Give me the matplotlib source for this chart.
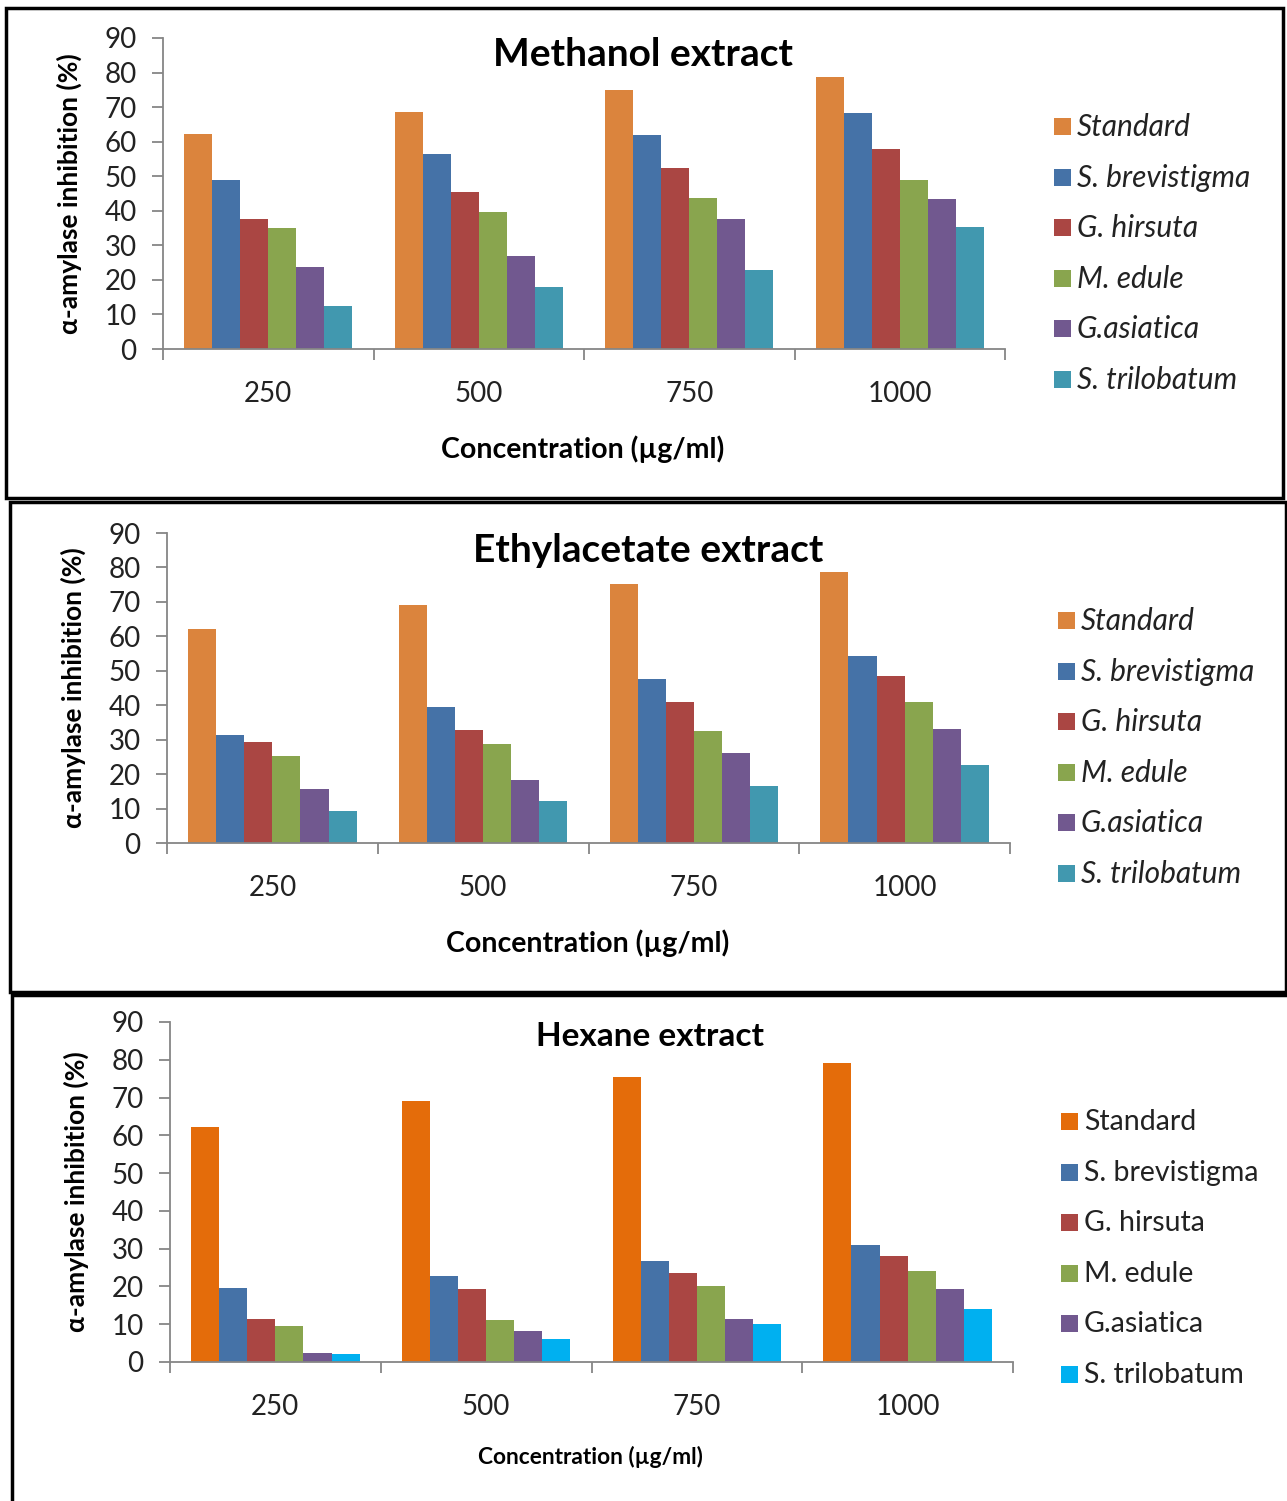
import numpy as np
import matplotlib.pyplot as plt
from matplotlib.patches import Rectangle

plt.rcParams['font.family'] = ['Lato', 'DejaVu Sans']

W, H = 1287, 1501

concentrations = ['250', '500', '750', '1000']
species = ['Standard', 'S. brevistigma', 'G. hirsuta', 'M. edule', 'G.asiatica', 'S. trilobatum']

methanol = [
    [62.1, 68.7, 75.0, 78.8],
    [48.9, 56.3, 61.8, 68.3],
    [37.7, 45.5, 52.5, 57.9],
    [34.9, 39.7, 43.8, 48.9],
    [23.7, 26.8, 37.7, 43.4],
    [12.5, 17.9, 23.0, 35.4],
]
ethylacetate = [
    [62.1, 69.1, 75.3, 78.8],
    [31.3, 39.5, 47.6, 54.2],
    [29.2, 32.8, 40.9, 48.4],
    [25.4, 28.6, 32.4, 40.9],
    [15.6, 18.4, 26.1, 33.2],
    [9.4, 12.2, 16.5, 22.7],
]
hexane = [
    [62.3, 69.1, 75.5, 79.1],
    [19.6, 22.8, 26.7, 31.0],
    [11.4, 19.2, 23.5, 28.1],
    [9.6, 11.1, 20.0, 24.2],
    [2.5, 8.2, 11.4, 19.2],
    [2.2, 6.1, 10.0, 13.9],
]

colors_a = ['#DB843D', '#4572A7', '#AA4643', '#89A54E', '#71588F', '#4198AF']
colors_b = ['#E46C0A', '#4572A7', '#AA4643', '#89A54E', '#71588F', '#00B0F0']

fig = plt.figure(figsize=(W / 100, H / 100), dpi=100)


def px_box(x0, y0, x1, y1):
    return [x0 / W, 1 - y1 / H, (x1 - x0) / W, (y1 - y0) / H]


def panel(frame, axbox, data, colors, title, tsize, title_xy, xl_xy, xl_size,
          leg_x, leg_y0, leg_size, italic):
    fig.patches.append(Rectangle((frame[0] / W, 1 - frame[3] / H),
                                 (frame[2] - frame[0]) / W, (frame[3] - frame[1]) / H,
                                 transform=fig.transFigure, fill=False,
                                 edgecolor='black', linewidth=2.5, zorder=0))
    ax = fig.add_axes(px_box(*axbox))
    n = len(data)
    bw = 0.8 / n
    x = np.arange(len(concentrations)) + 0.5
    for i, vals in enumerate(data):
        ax.bar(x - 0.4 + bw * (i + 0.5), vals, bw, color=colors[i],
               label=species[i], linewidth=0)
    ax.set_xlim(0, 4)
    ax.set_ylim(0, 90)
    ax.set_yticks(range(0, 91, 10))
    ax.set_xticks(range(0, 5))
    ax.set_xticklabels([])
    ax.set_xticks(x, minor=True)
    ax.set_xticklabels(concentrations, minor=True)
    for s in ['top', 'right']:
        ax.spines[s].set_visible(False)
    for s in ['left', 'bottom']:
        ax.spines[s].set_color('#868686')
        ax.spines[s].set_linewidth(1.3)
    ax.tick_params(axis='y', which='major', length=8, width=1.3, color='#868686',
                   labelsize=20, pad=11, labelcolor='#222222')
    ax.tick_params(axis='x', which='major', length=8, width=1.3, color='#868686')
    ax.tick_params(axis='x', which='minor', length=0, labelsize=20, pad=23,
                   labelcolor='#222222')
    ax.set_ylabel('α-amylase inhibition (%)', fontsize=19, fontweight='bold',
                  labelpad=16)
    fig.text(title_xy[0] / W, 1 - title_xy[1] / H, title,
             fontsize=tsize, fontweight='bold', ha='center', va='center')
    fig.text(xl_xy[0] / W, 1 - xl_xy[1] / H, 'Concentration (µg/ml)',
             fontsize=xl_size, fontweight='bold', ha='center', va='center')
    for i in range(n):
        yy = leg_y0 + i * 50.6
        fig.patches.append(Rectangle(((leg_x - 8) / W, 1 - (yy + 8) / H), 17 / W, 17 / H,
                                     transform=fig.transFigure,
                                     facecolor=colors[i], edgecolor='none'))
        fig.text((leg_x + 15) / W, 1 - yy / H, species[i], fontsize=leg_size,
                 style='italic' if italic else 'normal', ha='left', va='center',
                 color='#222222')
    return ax


panel((6, 8, 1283, 498), (163, 38, 1005, 349), methanol, colors_a,
      'Methanol extract', 28, (643, 55), (583, 449), 20.5, 1062, 127, 21.5, True)
panel((10, 502, 1286, 992), (167, 533, 1010, 843), ethylacetate, colors_a,
      'Ethylacetate extract', 28, (648, 551), (588, 943), 20.5, 1066, 621, 21.5, True)
panel((12, 995, 1290, 1505), (170, 1022, 1013, 1362), hexane, colors_b,
      'Hexane extract', 24, (650, 1036), (590, 1457), 16.4, 1069, 1122, 20.5, False)

fig.savefig('out.png', dpi=100)
